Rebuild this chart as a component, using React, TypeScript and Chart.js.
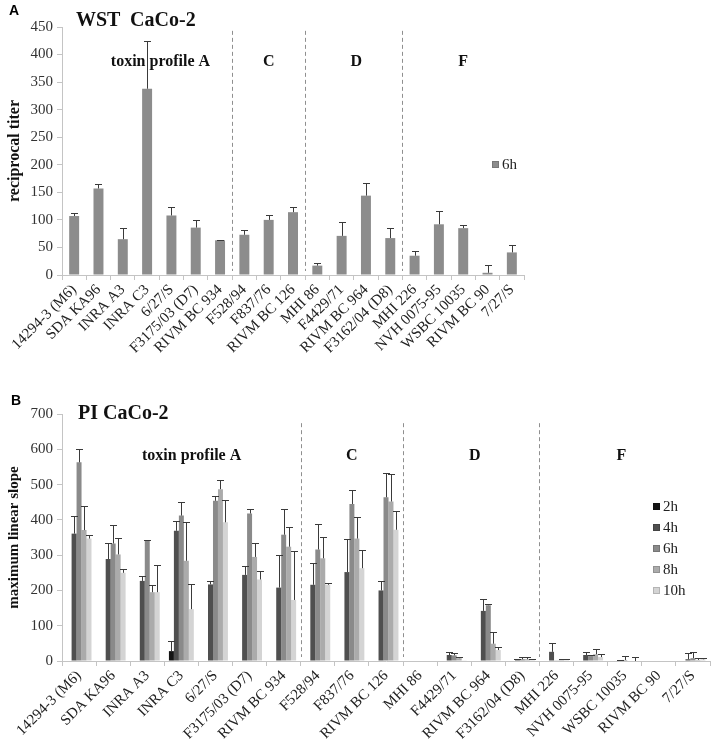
import React, { useEffect, useRef } from "react";
import { Chart, registerables } from "chart.js";
Chart.register(...registerables);

const strains = ["14294-3 (M6)", "SDA KA96", "INRA A3", "INRA C3", "6/27/S", "F3175/03 (D7)", "RIVM BC 934", "F528/94", "F837/76", "RIVM BC 126", "MHI 86", "F4429/71", "RIVM BC 964", "F3162/04 (D8)", "MHI 226", "NVH 0075-95", "WSBC 10035", "RIVM BC 90", "7/27/S"];

// Panel A: WST CaCo-2, 6h
const wst6h = [107, 157, 65, 338, 108, 86, 63, 73, 100, 114, 17, 71, 144, 67, 35, 92, 85, 4, 41];
const wst6hErr = [5, 9, 20, 87, 15, 14, 1, 9, 8, 10, 4, 26, 23, 18, 8, 24, 6, 14, 13];

// Panel B: PI CaCo-2
const pi2h = [0, 0, 0, 28, 0, 0, 0, 0, 0, 0, 0, 0, 0, 0, 0, 0, 0, 0, 0];
const pi2hErr = [0, 0, 0, 29, 0, 0, 0, 0, 0, 0, 0, 0, 0, 0, 0, 0, 0, 0, 0];
const pi4h = [361, 289, 227, 369, 217, 244, 208, 216, 252, 200, 0, 17, 142, 3, 26, 17, 2, 0, 5];
const pi4hErr = [50, 46, 15, 28, 11, 26, 92, 62, 93, 27, 0, 9, 34, 2, 24, 9, 2, 0, 19];
const pi6h = [563, 333, 342, 412, 454, 418, 358, 316, 445, 464, 0, 16, 158, 5, 2, 14, 3, 0, 8];
const pi6hErr = [38, 53, 2, 39, 15, 12, 72, 71, 39, 69, 0, 6, 4, 5, 0, 3, 12, 0, 18];
const pi8h = [371, 302, 195, 284, 487, 295, 324, 291, 347, 452, 0, 8, 49, 5, 4, 19, 0, 0, 3];
const pi8hErr = [68, 46, 20, 109, 26, 38, 56, 61, 60, 79, 0, 2, 34, 5, 3, 14, 0, 0, 5];
const pi10h = [347, 250, 195, 147, 393, 231, 173, 216, 263, 372, 0, 2, 31, 3, 3, 11, 0, 0, 5];
const pi10hErr = [9, 12, 76, 70, 63, 24, 138, 6, 51, 53, 0, 0, 8, 4, 2, 10, 11, 0, 3];

const piLabels = ["2h", "4h", "6h", "8h", "10h"];
const piColors = ["#141414", "#4f4f4f", "#8a8a8a", "#ababab", "#d4d4d4"];
const wstColor = "#8c8c8c";

const groupNames = ["toxin profile A", "C", "D", "F"];
const groupBoundaries = [6, 9, 13]; // dashed line after these category indexes
const groupCentersA = [3.55, 8, 11.6, 16];
const groupCentersB = [3.3, 8, 11.6, 15.9];

const serif = "'Liberation Serif', 'Times New Roman', serif";

const overlayPlugin = {
  id: "overlay",
  afterDatasetsDraw(chart: any, _args: any, opts: any) {
    const ctx = chart.ctx;
    const xs = chart.scales.x;
    const ys = chart.scales.y;
    // error bars
    chart.data.datasets.forEach((ds: any, di: number) => {
      const meta = chart.getDatasetMeta(di);
      if (!ds.errors) return;
      meta.data.forEach((el: any, i: number) => {
        const v = ds.data[i];
        const e = ds.errors[i];
        if (!e) return;
        const x = el.x;
        const y0 = ys.getPixelForValue(v);
        const y1 = ys.getPixelForValue(v + e);
        ctx.save();
        ctx.strokeStyle = "#3a3a3a";
        ctx.lineWidth = 1;
        ctx.beginPath();
        ctx.moveTo(Math.round(x) + 0.5, y0);
        ctx.lineTo(Math.round(x) + 0.5, Math.round(y1) + 0.5);
        ctx.moveTo(Math.round(x) + 0.5 - opts.cap, Math.round(y1) + 0.5);
        ctx.lineTo(Math.round(x) + 0.5 + opts.cap, Math.round(y1) + 0.5);
        ctx.stroke();
        ctx.restore();
      });
    });
    // dashed separators
    ctx.save();
    ctx.strokeStyle = "#8f8f8f";
    ctx.lineWidth = 1;
    ctx.setLineDash([4, 3]);
    groupBoundaries.forEach((b) => {
      const x = Math.round((xs.getPixelForValue(b) + xs.getPixelForValue(b + 1)) / 2) + 0.5;
      ctx.beginPath();
      ctx.moveTo(x, ys.getPixelForValue(opts.lineTop));
      ctx.lineTo(x, chart.chartArea.bottom - 4);
      ctx.stroke();
    });
    ctx.restore();
    // group labels
    ctx.save();
    ctx.fillStyle = "#111";
    ctx.font = "bold 16px " + serif;
    ctx.textAlign = "center";
    ctx.textBaseline = "middle";
    groupNames.forEach((g, i) => {
      const c = opts.centers[i];
      const x = xs.getPixelForValue(Math.floor(c)) + (c - Math.floor(c)) * (xs.getPixelForValue(1) - xs.getPixelForValue(0));
      ctx.fillText(g, x, ys.getPixelForValue(opts.labelValue));
    });
    ctx.restore();
  },
};

function makeOptions(yMax: number, yStep: number, yTitle: string, titleSize: number, padTop: number, padRight: number, xHeight: number, extra: any) {
  return {
    animation: false,
    responsive: false,
    devicePixelRatio: 1,
    layout: { padding: { left: 0, right: padRight, top: padTop, bottom: 0 } },
    plugins: {
      legend: { display: false },
      tooltip: { enabled: false },
      overlay: extra,
    },
    scales: {
      x: {
        offset: true,
        afterFit: (s: any) => { s.height = xHeight; },
        grid: { display: true, offset: true, drawOnChartArea: false, drawTicks: true, tickLength: 5, color: "#c4c4c4" },
        border: { color: "#c4c4c4" },
        ticks: { autoSkip: false, minRotation: 45, maxRotation: 45, padding: 1, color: "#222", font: { family: serif, size: 15 } },
      },
      y: {
        min: 0,
        max: yMax,
        afterFit: (s: any) => { s.width = 62; },
        grid: { display: true, drawOnChartArea: false, drawTicks: true, tickLength: 5, color: "#c4c4c4" },
        border: { color: "#c4c4c4" },
        ticks: { stepSize: yStep, padding: 4, color: "#333", font: { family: serif, size: 15 } },
        title: { display: true, text: yTitle, color: "#111", padding: { top: 5, bottom: 0 }, font: { family: serif, size: titleSize, weight: "bold" } },
      },
    },
  };
}

function ChartA() {
  const ref = useRef<HTMLCanvasElement>(null);
  useEffect(() => {
    const chart = new Chart(ref.current as HTMLCanvasElement, {
      type: "bar",
      data: {
        labels: strains,
        datasets: [
          { label: "6h", data: wst6h, errors: wst6hErr, backgroundColor: wstColor, borderWidth: 0, categoryPercentage: 1, barPercentage: 0.41 } as any,
        ],
      },
      options: makeOptions(450, 50, "reciprocal titer", 16, 27, 190, 100, { cap: 3.5, lineTop: 443, labelValue: 386, centers: groupCentersA }) as any,
      plugins: [overlayPlugin],
    });
    return () => chart.destroy();
  }, []);
  return <canvas ref={ref} width={714} height={375} style={{ position: "absolute", left: 0, top: 0 }} />;
}

function ChartB() {
  const ref = useRef<HTMLCanvasElement>(null);
  useEffect(() => {
    const series = [pi2h, pi4h, pi6h, pi8h, pi10h];
    const errs = [pi2hErr, pi4hErr, pi6hErr, pi8hErr, pi10hErr];
    const chart = new Chart(ref.current as HTMLCanvasElement, {
      type: "bar",
      data: {
        labels: strains,
        datasets: series.map((d, i) => ({
          label: piLabels[i],
          data: d,
          errors: errs[i],
          backgroundColor: piColors[i],
          borderWidth: 0,
          categoryPercentage: 0.73,
          barPercentage: 1,
        })) as any,
      },
      options: makeOptions(700, 100, "maximum linear slope", 15, 39, 4, 88, { cap: 3.5, lineTop: 674, labelValue: 581, centers: groupCentersB }) as any,
      plugins: [overlayPlugin],
    });
    return () => chart.destroy();
  }, []);
  return <canvas ref={ref} width={714} height={374} style={{ position: "absolute", left: 0, top: 375 }} />;
}

const sq = (c: string) => (
  <span style={{ display: "inline-block", width: 7, height: 7, background: c, border: "1px solid rgba(0,0,0,0.15)", marginRight: 3, boxSizing: "border-box" }} />
);

export default function App() {
  return (
    <div style={{ position: "absolute", left: 0, top: 0, width: 714, height: 749, background: "#fff", overflow: "hidden" }}>
      <ChartA />
      <ChartB />
      <div style={{ position: "absolute", left: 9, top: 3, font: "bold 14px 'Liberation Sans', Arial, sans-serif", lineHeight: "14px", color: "#000" }}>A</div>
      <div style={{ position: "absolute", left: 76, top: 9, font: "bold 20px " + serif, lineHeight: "20px", color: "#111", whiteSpace: "pre" }}>WST  CaCo-2</div>
      <div style={{ position: "absolute", left: 11, top: 393, font: "bold 14px 'Liberation Sans', Arial, sans-serif", lineHeight: "14px", color: "#000" }}>B</div>
      <div style={{ position: "absolute", left: 78, top: 402, font: "bold 20px " + serif, lineHeight: "20px", color: "#111", whiteSpace: "pre" }}>PI CaCo-2</div>
      <div style={{ position: "absolute", left: 492, top: 155, font: "15px " + serif, lineHeight: "18px", color: "#222", display: "flex", alignItems: "center" }}>
        {sq(wstColor)}<span>6h</span>
      </div>
      <div style={{ position: "absolute", left: 653, top: 496, font: "15px " + serif, color: "#222" }}>
        {piLabels.map((l, i) => (
          <div key={l} style={{ display: "flex", alignItems: "center", height: 21, lineHeight: "21px" }}>
            {sq(piColors[i])}<span>{l}</span>
          </div>
        ))}
      </div>
    </div>
  );
}
